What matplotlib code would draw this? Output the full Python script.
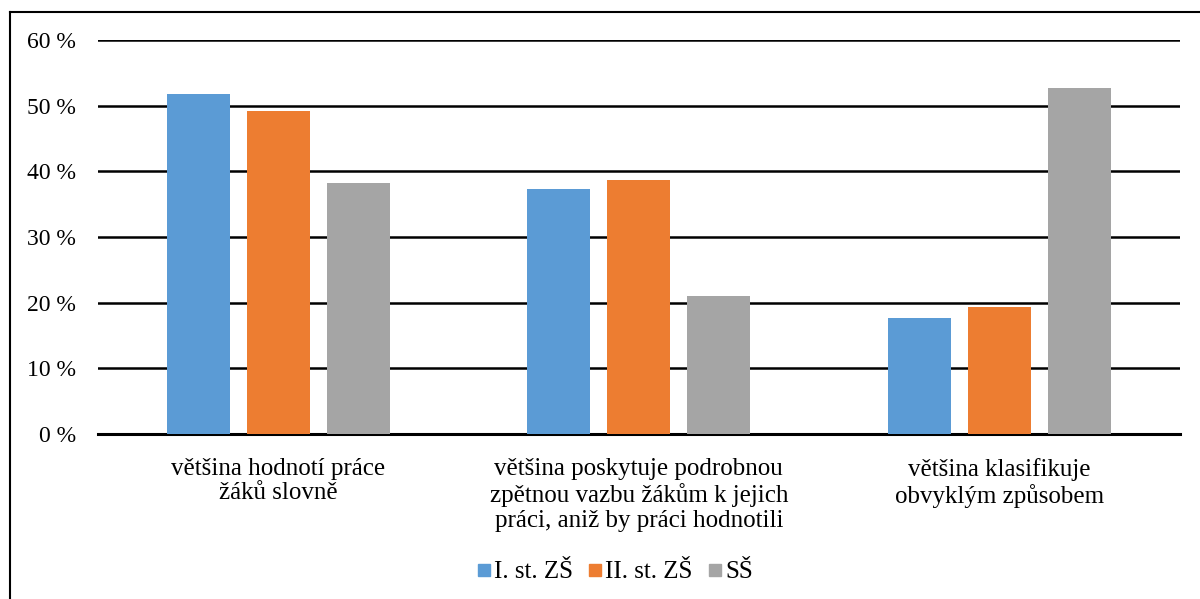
import numpy as np
import matplotlib.pyplot as plt
from matplotlib.lines import Line2D

plt.rcParams['font.family'] = ['Liberation Serif', 'DejaVu Serif']

# DATA ------------------------------------------------------
categories = ["většina hodnotí práce\nžáků slovně",
              "většina poskytuje podrobnou\nzpětnou vazbu žákům k jejich\npráci, aniž by práci hodnotili",
              "většina klasifikuje\nobvyklým způsobem"]
series = ["I. st. ZŠ", "II. st. ZŠ", "SŠ"]
vals_zs1 = [51.8, 37.3, 17.7]
vals_zs2 = [49.2, 38.7, 19.3]
vals_ss = [38.2, 21.0, 52.7]
colors = ["#5b9bd5", "#ed7d31", "#a5a5a5"]
yticks = [0, 10, 20, 30, 40, 50, 60]

# PLOT ------------------------------------------------------
fig = plt.figure(figsize=(12, 5.99), dpi=100)
ax = fig.add_axes([0.0817, 0.2755, 0.9013, 0.6575])

x = np.arange(len(categories))
w = 0.175
step = 0.222
for k, vals in enumerate([vals_zs1, vals_zs2, vals_ss]):
    ax.bar(x + (k - 1) * step, vals, width=w, color=colors[k], label=series[k], zorder=3)

ax.set_xlim(-0.5, 2.5)
ax.set_ylim(0, 60)
ax.set_yticks(yticks)
ax.set_yticklabels([f"{t} %" for t in yticks], fontsize=17)
ax.set_xticks(x)
ax.set_xticklabels(categories, fontsize=18, linespacing=1.17)
ax.tick_params(axis='x', length=0, pad=17)
ax.tick_params(axis='y', length=0, pad=16)
ax.grid(axis='y', color='black', linewidth=1.8, zorder=0)
for s in ['top', 'right', 'left']:
    ax.spines[s].set_visible(False)
ax.spines['bottom'].set_linewidth(2.2)

handles = [Line2D([0], [0], marker='s', linestyle='', markersize=8,
                  markerfacecolor=c, markeredgecolor=c) for c in colors]
fig.legend(handles, series, loc='center', bbox_to_anchor=(0.5125, 0.045), ncol=3,
           frameon=False, fontsize=18, handlelength=0.5, handletextpad=0.15,
           columnspacing=0.65)

# border lines of the original frame
fig.add_artist(Line2D([10 / 1200, 10 / 1200], [0, 1 - 12 / 599], color='black', linewidth=1.5))
fig.add_artist(Line2D([10 / 1200, 1], [1 - 12 / 599, 1 - 12 / 599], color='black', linewidth=1.5))

fig.savefig("out.png", dpi=100)
